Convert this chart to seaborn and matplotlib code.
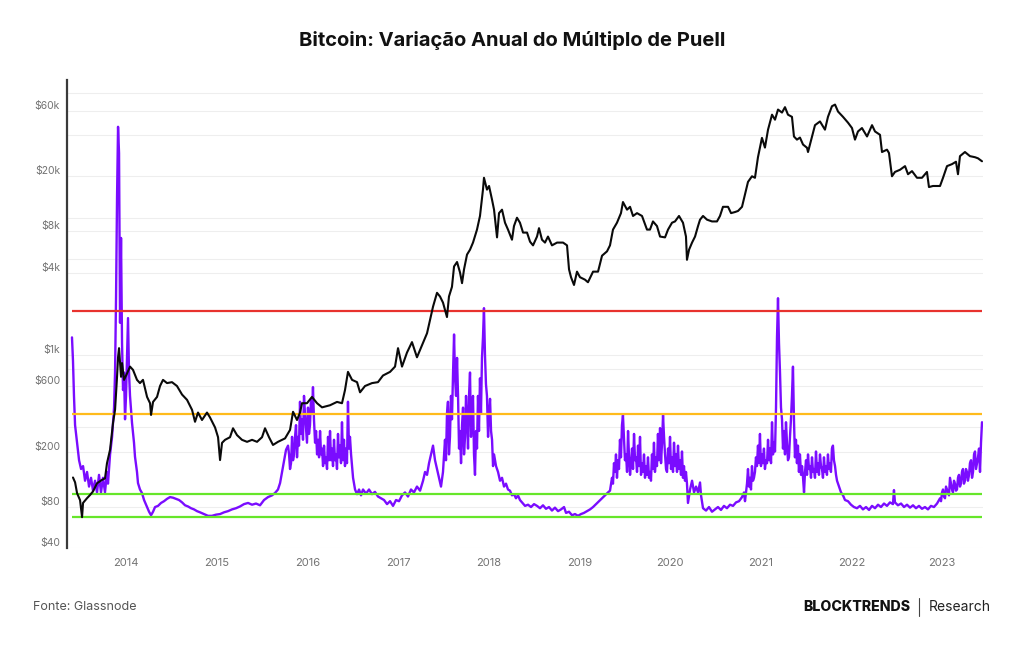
import matplotlib
matplotlib.use("Agg")
import matplotlib.pyplot as plt
import seaborn as sns
from matplotlib.ticker import NullFormatter
from matplotlib.lines import Line2D

# ---------------- data ----------------
title = "Bitcoin: Variação Anual do Múltiplo de Puell"
source = "Fonte: Glassnode"

year_ticks = [2014, 2015, 2016, 2017, 2018, 2019, 2020, 2021, 2022, 2023]
price_ticks = [40, 80, 200, 600, 1000, 4000, 8000, 20000, 60000]
price_labels = ["$40", "$80", "$200", "$600", "$1k", "$4k", "$8k", "$20k", "$60k"]
price_minor = [300, 800, 5000, 10000, 40000, 80000]

# Puell levels (secondary axis)
levels = [4.05, 2.29, 0.92, 0.53]
level_colors = ["#e8322e", "#ffbb1c", "#66e62a", "#66e62a"]

puell_t = [
    2013.404, 2013.415, 2013.426, 2013.438, 2013.460, 2013.482, 2013.504, 2013.526, 2013.548, 2013.570,
    2013.592, 2013.614, 2013.636, 2013.658, 2013.680, 2013.702, 2013.724, 2013.746, 2013.768, 2013.790,
    2013.801, 2013.824, 2013.846, 2013.868, 2013.879, 2013.890, 2013.901, 2013.912, 2013.923, 2013.934,
    2013.945, 2013.956, 2013.967, 2013.978, 2013.989, 2014.000, 2014.011, 2014.022, 2014.033, 2014.044,
    2014.066, 2014.088, 2014.099, 2014.121, 2014.132, 2014.154, 2014.176, 2014.199, 2014.232, 2014.254,
    2014.276, 2014.298, 2014.320, 2014.353, 2014.386, 2014.419, 2014.452, 2014.485, 2014.518, 2014.551,
    2014.585, 2014.618, 2014.651, 2014.684, 2014.717, 2014.750, 2014.783, 2014.816, 2014.860, 2014.904,
    2014.948, 2014.993, 2015.037, 2015.081, 2015.125, 2015.169, 2015.213, 2015.257, 2015.301, 2015.346,
    2015.390, 2015.434, 2015.478, 2015.522, 2015.566, 2015.610, 2015.643, 2015.676, 2015.699, 2015.721,
    2015.743, 2015.765, 2015.787, 2015.809, 2015.831, 2015.853, 2015.875, 2015.897, 2015.919, 2015.941,
    2015.963, 2015.985, 2016.007, 2016.029, 2016.040, 2016.062, 2016.073, 2016.096, 2016.118, 2016.140,
    2016.162, 2016.184, 2016.206, 2016.228, 2016.250, 2016.272, 2016.294, 2016.316, 2016.338, 2016.360,
    2016.382, 2016.404, 2016.426, 2016.448, 2016.470, 2016.482, 2016.504, 2016.526, 2016.548, 2016.570,
    2016.592, 2016.614, 2016.647, 2016.680, 2016.713, 2016.746, 2016.779, 2016.812, 2016.846, 2016.879,
    2016.912, 2016.945, 2016.978, 2017.011, 2017.044, 2017.077, 2017.110, 2017.143, 2017.176, 2017.209,
    2017.243, 2017.276, 2017.298, 2017.320, 2017.342, 2017.364, 2017.386, 2017.408, 2017.430, 2017.452,
    2017.474, 2017.496, 2017.518, 2017.540, 2017.551, 2017.573, 2017.595, 2017.607, 2017.618, 2017.629,
    2017.640, 2017.651, 2017.662, 2017.684, 2017.695, 2017.706, 2017.717, 2017.739, 2017.761, 2017.783,
    2017.794, 2017.816, 2017.827, 2017.838, 2017.849, 2017.860, 2017.882, 2017.904, 2017.926, 2017.937,
    2017.948, 2017.959, 2017.970, 2017.981, 2018.004, 2018.015, 2018.026, 2018.037, 2018.059, 2018.081,
    2018.103, 2018.125, 2018.147, 2018.169, 2018.191, 2018.213, 2018.235, 2018.257, 2018.279, 2018.301,
    2018.323, 2018.345, 2018.367, 2018.401, 2018.434, 2018.467, 2018.500, 2018.533, 2018.566, 2018.599,
    2018.632, 2018.665, 2018.698, 2018.731, 2018.765, 2018.798, 2018.831, 2018.853, 2018.886, 2018.919,
    2018.952, 2018.985, 2019.018, 2019.051, 2019.084, 2019.118, 2019.151, 2019.184, 2019.217, 2019.250,
    2019.283, 2019.316, 2019.338, 2019.360, 2019.382, 2019.404, 2019.426, 2019.448, 2019.470, 2019.481,
    2019.492, 2019.515, 2019.537, 2019.559, 2019.581, 2019.603, 2019.625, 2019.647, 2019.669, 2019.691,
    2019.713, 2019.735, 2019.757, 2019.779, 2019.801, 2019.823, 2019.845, 2019.867, 2019.890, 2019.912,
    2019.923, 2019.934, 2019.956, 2019.978, 2020.000, 2020.022, 2020.044, 2020.066, 2020.088, 2020.110,
    2020.132, 2020.154, 2020.176, 2020.187, 2020.198, 2020.221, 2020.243, 2020.265, 2020.287, 2020.309,
    2020.331, 2020.342, 2020.364, 2020.397, 2020.430, 2020.463, 2020.496, 2020.529, 2020.562, 2020.595,
    2020.628, 2020.662, 2020.695, 2020.728, 2020.761, 2020.794, 2020.816, 2020.827, 2020.849, 2020.860,
    2020.882, 2020.904, 2020.926, 2020.948, 2020.970, 2020.992, 2021.014, 2021.036, 2021.058, 2021.081,
    2021.103, 2021.125, 2021.147, 2021.169, 2021.180, 2021.191, 2021.202, 2021.213, 2021.224, 2021.235,
    2021.257, 2021.279, 2021.301, 2021.323, 2021.334, 2021.345, 2021.356, 2021.367, 2021.389, 2021.411,
    2021.433, 2021.456, 2021.478, 2021.500, 2021.522, 2021.544, 2021.566, 2021.588, 2021.610, 2021.632,
    2021.654, 2021.676, 2021.698, 2021.720, 2021.742, 2021.764, 2021.786, 2021.797, 2021.820, 2021.842,
    2021.864, 2021.886, 2021.908, 2021.930, 2021.963, 2021.996, 2022.029, 2022.062, 2022.095, 2022.128,
    2022.162, 2022.195, 2022.228, 2022.261, 2022.294, 2022.327, 2022.360, 2022.393, 2022.426, 2022.459,
    2022.470, 2022.481, 2022.514, 2022.548, 2022.581, 2022.614, 2022.647, 2022.680, 2022.713, 2022.746,
    2022.779, 2022.812, 2022.845, 2022.878, 2022.911, 2022.945, 2022.978, 2023.000, 2023.022, 2023.044,
    2023.066, 2023.088, 2023.110, 2023.132, 2023.154, 2023.176, 2023.198, 2023.220, 2023.242, 2023.264,
    2023.286, 2023.308, 2023.331, 2023.353, 2023.375, 2023.397, 2023.419, 2023.430, 2023.441,
]
puell_v = [
    3.6, 3.2, 2.6, 2.1, 1.8, 1.5, 1.35, 1.4, 1.15, 1.3,
    1.05, 1.2, 0.98, 1.15, 0.95, 1.25, 0.95, 1.2, 0.95, 1.3,
    1.1, 1.6, 1.9, 2.4, 3.0, 4.3, 6.0, 7.2, 6.75, 3.85,
    5.3, 3.5, 2.7, 3.0, 2.2, 2.6, 3.26, 3.93, 3.0, 2.6,
    2.14, 1.8, 1.56, 1.3, 1.11, 1.0, 0.94, 0.82, 0.70, 0.62,
    0.56, 0.62, 0.70, 0.72, 0.77, 0.80, 0.84, 0.87, 0.86, 0.84,
    0.82, 0.78, 0.73, 0.71, 0.68, 0.66, 0.63, 0.61, 0.58, 0.55,
    0.55, 0.57, 0.58, 0.61, 0.63, 0.66, 0.68, 0.71, 0.75, 0.77,
    0.74, 0.76, 0.73, 0.82, 0.87, 0.9, 0.94, 1.0, 1.11, 1.3,
    1.5, 1.68, 1.75, 1.35, 1.9, 1.6, 2.1, 1.9, 2.5, 2.2,
    2.6, 2.05, 2.4, 2.1, 2.55, 2.75, 2.2, 2.0, 1.85, 2.0,
    1.7, 1.75, 1.55, 1.9, 2.0, 1.7, 1.85, 1.6, 1.95, 1.75,
    2.15, 1.85, 1.7, 2.5, 1.9, 1.6, 1.2, 1.0, 0.92, 1.0,
    0.9, 1.0, 0.93, 1.0, 0.92, 0.96, 0.88, 0.85, 0.82, 0.75,
    0.8, 0.72, 0.82, 0.8, 0.9, 0.95, 0.88, 1.0, 0.95, 1.05,
    0.98, 1.15, 1.3, 1.25, 1.45, 1.6, 1.75, 1.5, 1.35, 1.2,
    1.05, 1.3, 1.85, 2.3, 2.5, 1.9, 2.2, 3.0, 3.65, 2.9,
    2.6, 3.25, 2.6, 2.0, 1.45, 2.1, 2.4, 1.9, 2.2, 2.6,
    3.0, 2.3, 2.6, 1.6, 1.25, 2.0, 2.6, 2.9, 3.25, 3.6,
    4.1, 3.3, 2.8, 2.6, 2.3, 2.55, 2.0, 1.85, 1.6, 1.4,
    1.3, 1.15, 1.2, 1.05, 1.1, 1.0, 0.98, 0.9, 0.92, 0.85,
    0.9, 0.82, 0.78, 0.72, 0.74, 0.7, 0.75, 0.72, 0.68, 0.73,
    0.67, 0.7, 0.64, 0.69, 0.63, 0.66, 0.7, 0.6, 0.62, 0.56,
    0.58, 0.55, 0.58, 0.6, 0.63, 0.66, 0.7, 0.75, 0.8, 0.85,
    0.9, 0.95, 0.98, 1.2, 1.45, 1.6, 1.5, 1.85, 2.1, 2.27,
    1.9, 1.6, 2.0, 1.25, 1.7, 1.95, 1.55, 1.75, 1.9, 1.45,
    1.6, 1.4, 1.55, 1.3, 1.6, 1.8, 1.55, 1.95, 2.05, 1.8,
    2.27, 1.9, 1.35, 1.7, 1.9, 1.55, 1.8, 1.6, 1.75, 1.5,
    1.65, 1.4, 1.3, 1.1, 0.77, 1.0, 1.15, 0.95, 1.05, 0.95,
    1.12, 0.9, 0.68, 0.64, 0.7, 0.62, 0.66, 0.7, 0.65, 0.72,
    0.68, 0.74, 0.72, 0.78, 0.8, 0.87, 0.95, 0.8, 1.1, 1.35,
    1.2, 1.4, 1.2, 1.55, 1.75, 1.95, 1.6, 1.7, 1.5, 1.85,
    1.7, 2.15, 1.8, 2.4, 3.6, 4.27, 3.5, 3.0, 2.4, 2.2,
    2.0, 2.15, 1.5, 1.9, 2.2, 2.6, 3.1, 2.2, 1.85, 1.75,
    1.6, 1.4, 0.95, 1.5, 1.6, 1.4, 1.55, 1.35, 1.65, 1.45,
    1.6, 1.35, 1.55, 1.4, 1.6, 1.45, 1.7, 1.75, 1.4, 1.15,
    1.05, 0.95, 0.9, 0.82, 0.8, 0.74, 0.7, 0.68, 0.72, 0.66,
    0.7, 0.65, 0.72, 0.68, 0.74, 0.7, 0.76, 0.72, 0.78, 0.75,
    0.99, 0.78, 0.73, 0.76, 0.7, 0.74, 0.69, 0.73, 0.68, 0.72,
    0.67, 0.7, 0.66, 0.72, 0.7, 0.76, 0.85, 0.95, 0.88, 1.05,
    0.95, 1.2, 1.0, 1.15, 0.98, 1.2, 1.05, 1.3, 1.1, 1.35,
    1.15, 1.45, 1.2, 1.6, 1.35, 1.55, 1.3, 1.8, 2.15,
]

# extra daily swings read from the lower edge of the dense purple band
band_t = [
    2015.798, 2015.820, 2015.842, 2015.864, 2015.886, 2015.908, 2015.930, 2015.952, 2015.974, 2015.996,
    2016.018, 2016.051, 2016.085, 2016.107, 2016.129, 2016.151, 2016.173, 2016.195, 2016.217, 2016.239,
    2016.261, 2016.283, 2016.305, 2016.327, 2016.349, 2016.371, 2016.393, 2016.415, 2016.437, 2016.459,
    2017.529, 2017.562, 2017.584, 2017.673, 2017.728, 2017.750, 2017.772, 2017.805, 2017.871, 2017.893,
    2017.915, 2017.993, 2018.048,
    2019.371, 2019.393, 2019.415, 2019.437, 2019.459, 2019.503, 2019.526, 2019.548, 2019.570, 2019.592,
    2019.614, 2019.636, 2019.658, 2019.680, 2019.702, 2019.724, 2019.746, 2019.768, 2019.790, 2019.812,
    2019.834, 2019.856, 2019.878, 2019.901, 2019.945, 2019.967, 2019.989, 2020.011, 2020.033, 2020.055,
    2020.077, 2020.099, 2020.121, 2020.143, 2020.165,
    2020.871, 2020.893, 2020.915, 2020.937, 2020.959, 2020.981, 2021.003, 2021.025, 2021.047, 2021.070,
    2021.092, 2021.114, 2021.136, 2021.158, 2021.246, 2021.268, 2021.290, 2021.312, 2021.378, 2021.400,
    2021.422, 2021.445, 2021.467, 2021.489, 2021.511, 2021.533, 2021.555, 2021.577, 2021.599, 2021.621,
    2021.643, 2021.665, 2021.687, 2021.709, 2021.731, 2021.753, 2021.775, 2021.808, 2021.831,
    2022.989, 2023.011, 2023.033, 2023.055, 2023.077, 2023.099, 2023.121, 2023.143, 2023.165, 2023.187,
    2023.209, 2023.231, 2023.253, 2023.275, 2023.298, 2023.320, 2023.342, 2023.364, 2023.386, 2023.408,
]
band_v = [
    1.6, 1.45, 1.5, 1.9, 1.55, 1.75, 1.95, 1.85, 2.3, 1.8,
    1.95, 2.3, 1.8, 1.6, 1.55, 1.6, 1.4, 1.45, 1.35, 1.5,
    1.5, 1.4, 1.5, 1.35, 1.55, 1.45, 1.5, 1.4, 1.45, 1.7,
    1.5, 1.6, 2.6, 1.7, 1.6, 2.6, 1.7, 1.9, 1.7, 2.0,
    2.3, 1.9, 1.4,
    1.1, 1.3, 1.2, 1.35, 1.55, 1.5, 1.3, 1.55, 1.45, 1.35,
    1.5, 1.3, 1.4, 1.25, 1.3, 1.2, 1.25, 1.2, 1.15, 1.35,
    1.3, 1.4, 1.5, 1.45, 1.6, 1.3, 1.45, 1.35, 1.3, 1.4,
    1.3, 1.35, 1.25, 1.2, 1.15,
    1.05, 1.0, 1.15, 1.3, 1.4, 1.45, 1.4, 1.45, 1.35, 1.45,
    1.5, 1.45, 1.6, 1.65, 1.7, 1.6, 1.8, 1.55, 1.55, 1.45,
    1.3, 1.25, 1.2, 1.3, 1.25, 1.35, 1.2, 1.3, 1.2, 1.3,
    1.25, 1.4, 1.2, 1.3, 1.25, 1.35, 1.3, 1.5, 1.25,
    0.8, 1.0, 0.85, 1.0, 0.9, 1.1, 0.95, 1.1, 1.0, 1.25,
    1.1, 1.35, 1.15, 1.3, 1.25, 1.5, 1.3, 1.65, 1.45, 1.7,
]

price_t = [
    2013.415, 2013.438, 2013.460, 2013.493, 2013.515, 2013.526, 2013.570, 2013.603, 2013.636, 2013.680,
    2013.735, 2013.768, 2013.790, 2013.824, 2013.857, 2013.879, 2013.901, 2013.912, 2013.923, 2013.945,
    2013.956, 2013.978, 2014.011, 2014.044, 2014.077, 2014.121, 2014.154, 2014.187, 2014.232, 2014.265,
    2014.276, 2014.298, 2014.342, 2014.375, 2014.408, 2014.452, 2014.507, 2014.562, 2014.618, 2014.673,
    2014.728, 2014.761, 2014.794, 2014.838, 2014.893, 2014.926, 2014.982, 2015.015, 2015.037, 2015.059,
    2015.092, 2015.147, 2015.180, 2015.224, 2015.279, 2015.335, 2015.390, 2015.445, 2015.500, 2015.533,
    2015.577, 2015.621, 2015.676, 2015.754, 2015.809, 2015.842, 2015.886, 2015.919, 2015.941, 2015.996,
    2016.051, 2016.107, 2016.162, 2016.250, 2016.327, 2016.382, 2016.415, 2016.448, 2016.493, 2016.548,
    2016.581, 2016.636, 2016.713, 2016.779, 2016.834, 2016.912, 2016.967, 2017.000, 2017.044, 2017.099,
    2017.154, 2017.209, 2017.265, 2017.320, 2017.353, 2017.386, 2017.430, 2017.463, 2017.496, 2017.540,
    2017.562, 2017.595, 2017.618, 2017.651, 2017.684, 2017.706, 2017.728, 2017.761, 2017.794, 2017.827,
    2017.871, 2017.904, 2017.937, 2017.948, 2017.981, 2018.004, 2018.037, 2018.059, 2018.092, 2018.114,
    2018.147, 2018.180, 2018.213, 2018.257, 2018.279, 2018.312, 2018.345, 2018.379, 2018.423, 2018.456,
    2018.489, 2018.533, 2018.555, 2018.588, 2018.621, 2018.654, 2018.698, 2018.754, 2018.820, 2018.864,
    2018.886, 2018.908, 2018.941, 2018.974, 2019.007, 2019.062, 2019.095, 2019.151, 2019.206, 2019.250,
    2019.305, 2019.338, 2019.371, 2019.415, 2019.459, 2019.481, 2019.526, 2019.559, 2019.592, 2019.636,
    2019.691, 2019.746, 2019.779, 2019.812, 2019.856, 2019.890, 2019.945, 2019.978, 2020.022, 2020.055,
    2020.099, 2020.143, 2020.176, 2020.187, 2020.210, 2020.243, 2020.276, 2020.309, 2020.331, 2020.364,
    2020.408, 2020.463, 2020.518, 2020.551, 2020.584, 2020.640, 2020.673, 2020.717, 2020.750, 2020.794,
    2020.827, 2020.860, 2020.904, 2020.937, 2020.970, 2021.014, 2021.047, 2021.081, 2021.125, 2021.158,
    2021.191, 2021.235, 2021.268, 2021.301, 2021.345, 2021.367, 2021.400, 2021.433, 2021.467, 2021.511,
    2021.522, 2021.566, 2021.599, 2021.654, 2021.709, 2021.742, 2021.786, 2021.820, 2021.853, 2021.908,
    2021.963, 2022.007, 2022.040, 2022.073, 2022.117, 2022.173, 2022.228, 2022.261, 2022.316, 2022.338,
    2022.393, 2022.415, 2022.448, 2022.481, 2022.537, 2022.592, 2022.625, 2022.669, 2022.724, 2022.779,
    2022.834, 2022.856, 2022.900, 2022.978, 2023.011, 2023.055, 2023.110, 2023.154, 2023.176, 2023.198,
    2023.253, 2023.308, 2023.364, 2023.397, 2023.441,
]
price_v = [
    130, 120, 100, 89, 67, 85, 92, 97, 103, 118,
    125, 128, 165, 207, 325, 403, 700, 970, 1130, 700,
    880, 665, 740, 830, 786, 665, 630, 665, 500, 450,
    370, 460, 500, 600, 665, 630, 640, 600, 520, 476,
    403, 330, 385, 340, 385, 355, 300, 255, 174, 232,
    244, 255, 296, 264, 244, 236, 244, 236, 255, 296,
    255, 224, 236, 250, 288, 390, 340, 385, 450, 450,
    500, 450, 420, 435, 460, 450, 560, 760, 665, 640,
    540, 600, 630, 640, 715, 760, 830, 1130, 830, 1050,
    1250, 970, 1190, 1450, 1815, 2260, 2850, 2680, 2420, 1900,
    2680, 3150, 4430, 4770, 4000, 3350, 4220, 5400, 5860, 6600,
    8200, 10300, 16000, 19500, 16000, 17000, 13500, 11440, 7200, 10800,
    11440, 9200, 8200, 6925, 8700, 10000, 9200, 7800, 7800, 6700,
    6300, 7300, 8400, 6925, 6600, 7300, 6300, 6600, 6600, 6300,
    4220, 3700, 3250, 4060, 3700, 3550, 3400, 4060, 4060, 5300,
    5700, 6300, 8200, 9200, 10800, 13000, 11440, 12000, 10300, 10800,
    10300, 8200, 8200, 9400, 8700, 7300, 7200, 8200, 9200, 9400,
    10300, 9200, 7300, 4950, 5860, 6600, 7300, 8700, 9680, 10300,
    9680, 9400, 9400, 10300, 12000, 12000, 10800, 11000, 11200, 12000,
    14800, 18200, 20000, 19500, 27500, 38000, 32300, 43600, 56000, 51500,
    61000, 58000, 63500, 56000, 54000, 38900, 36900, 38200, 34000, 32200,
    30000, 38900, 47000, 50000, 43600, 54000, 64500, 66300, 59000, 54000,
    49000, 44800, 36900, 42300, 44800, 38900, 47000, 42300, 40000, 30000,
    31200, 29500, 20000, 21500, 22300, 23700, 20700, 21800, 19500, 19500,
    21500, 16700, 17000, 17000, 19500, 23700, 24500, 25500, 20700, 28000,
    30000, 28000, 27500, 27000, 25700,
]

# ---------------- style ----------------
sns.set_theme(style="white")
plt.rcParams["font.family"] = ["Inter", "DejaVu Sans"]

fig = plt.figure(figsize=(10.24, 6.45), dpi=100)
L, R = 67 / 1024, 983 / 1024
B, T = 1 - 548 / 645, 1 - 80 / 645
ax = fig.add_axes([L, B, R - L, T - B])      # price scale: grid + labels
ax_p = ax.twinx()                              # Puell multiple
ax_b = ax.twinx()                              # price line on top

for a in (ax, ax_p, ax_b):
    a.patch.set_visible(False)
    for s in a.spines.values():
        s.set_visible(False)

# Price axis (labels / grid)
ax.set_yscale("log")
ax.set_ylim(40, 100000)
ax.set_xlim(2013.349, 2023.452)
ax.set_yticks(price_ticks)
ax.set_yticklabels(price_labels)
ax.set_yticks(price_minor, minor=True)
ax.yaxis.set_minor_formatter(NullFormatter())
ax.tick_params(axis="y", which="both", length=0, pad=5, labelsize=7.5, labelcolor="#727272")
for lab in ax.get_yticklabels():
    lab.set_verticalalignment("bottom")
ax.set_xticks(year_ticks)
ax.set_xticklabels([str(y) for y in year_ticks])
ax.tick_params(axis="x", length=0, pad=7, labelsize=8, labelcolor="#727272")
ax.grid(True, axis="y", which="both", color="#eeeeee", linewidth=0.8)
ax.grid(False, axis="x")
ax.spines["left"].set_visible(True)
ax.spines["left"].set_color("#3a3a3a")
ax.spines["left"].set_linewidth(1.6)

# Puell line + levels (seaborn sorts the merged points by date)
sns.lineplot(x=puell_t + band_t, y=puell_v + band_v, ax=ax_p,
             color="#7a0cff", linewidth=1.7)
ax_p.hlines(levels, puell_t[0], puell_t[-1], colors=level_colors, linewidth=1.6)
ax_p.set_ylim(0, 8)
ax_p.yaxis.set_visible(False)

# Price line
sns.lineplot(x=price_t, y=price_v, ax=ax_b, color="#0a0a0a", linewidth=1.5)
ax_b.set_yscale("log")
ax_b.set_ylim(40, 100000)
ax_b.yaxis.set_visible(False)
ax.set_xlim(2013.349, 2023.452)

for a in (ax, ax_p, ax_b):
    a.set_xlabel("")
    a.set_ylabel("")

# ---------------- text ----------------
fig.text(0.5, 1 - 40 / 645, title, ha="center", va="center",
         fontsize=14.5, fontweight="bold", color="#111111")
fig.text(33 / 1024, 1 - 607 / 645, source, ha="left", va="center",
         fontsize=9, color="#555555")
fig.text(910 / 1024, 1 - 607 / 645, "BLOCKTRENDS", ha="right", va="center",
         fontsize=10.2, fontweight="heavy", color="#111111")
fig.add_artist(Line2D([919 / 1024, 919 / 1024], [1 - 598 / 645, 1 - 616 / 645],
                      color="#444444", linewidth=0.8))
fig.text(929 / 1024, 1 - 607 / 645, "Research", ha="left", va="center",
         fontsize=10, color="#222222")

fig.savefig("out.png", dpi=100, facecolor="white")
